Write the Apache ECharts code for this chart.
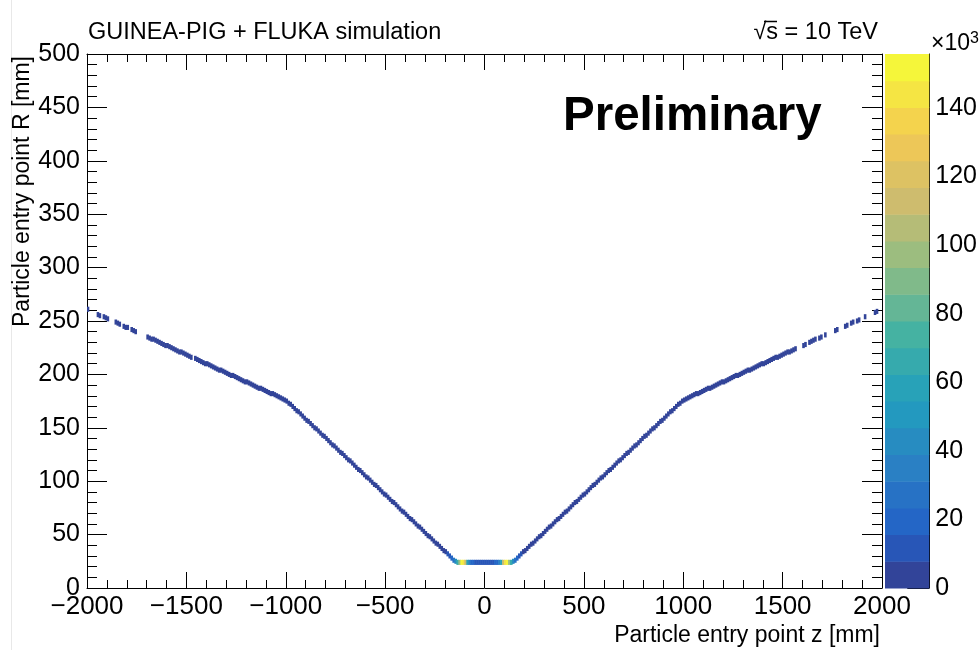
<!DOCTYPE html>
<html><head><meta charset="utf-8">
<script src="https://cdn.jsdelivr.net/npm/echarts@6/dist/echarts.min.js"></script>
<style>html,body{margin:0;padding:0;background:#fff}#c{width:980px;height:650px}</style>
</head><body><div id="c"></div>
<script>
// ---- binning of the 2D histogram: z bins of 10 mm, centres from -1995 to 1995
const zBinWidth = 10;
const zFirstCenter = -1995;
const rBinHeight = 4.8;

// R (mm) of the filled cell in each z bin (z ascending)
const rValues = [
  // z = -1995 ... -1005
  261,260,259,258,257,256,255,255,254,253,
  252,251,250,250,249,248,247,246,245,244,
  244,243,242,241,240,239,238,238,237,236,
  235,234,233,233,232,231,230,229,228,227,
  227,226,225,224,223,222,221,221,220,219,
  218,217,216,216,215,214,213,212,211,210,
  210,209,208,207,206,205,204,204,203,202,
  201,200,199,199,198,197,196,195,194,193,
  193,192,191,190,189,188,187,187,186,185,
  184,183,182,182,181,180,179,178,177,176,
  // z = -995 ... -145
  175,173,172,170,168,166,
  165,163,161,159,157,156,154,152,150,149,
  147,145,143,142,140,138,136,134,133,131,
  129,127,126,124,122,120,119,117,115,113,
  111,110,108,106,104,103,101,99,97,96,
  94,92,90,88,87,85,83,81,80,78,
  76,74,72,71,69,67,65,64,62,60,
  58,57,55,53,51,49,48,46,44,42,
  41,39,37,35,34,32,30,28,26,25,
  // z = -135 ... -5
  24,24,24,24,24,24,24,24,24,24,24,24,24,24,
  // z = 5 ... 135
  24,24,24,24,24,24,24,24,24,24,24,24,24,24,
  // z = 145 ... 995
  25,26,28,30,32,34,35,37,39,41,
  42,44,46,48,49,51,53,55,57,58,
  60,62,64,65,67,69,71,72,74,76,
  78,80,81,83,85,87,88,90,92,94,
  96,97,99,101,103,104,106,108,110,111,
  113,115,117,119,120,122,124,126,127,129,
  131,133,134,136,138,140,142,143,145,147,
  149,150,152,154,156,157,159,161,163,165,
  166,168,170,172,173,175,
  // z = 1005 ... 1995
  176,177,178,179,180,181,182,182,183,184,
  185,186,187,187,188,189,190,191,192,193,
  193,194,195,196,197,198,199,199,200,201,
  202,203,204,204,205,206,207,208,209,210,
  210,211,212,213,214,215,216,216,217,218,
  219,220,221,221,222,223,224,225,226,227,
  227,228,229,230,231,232,233,233,234,235,
  236,237,238,238,239,240,241,242,243,244,
  244,245,246,247,248,249,250,250,251,252,
  253,254,255,255,256,257,258,259,260,261
];

// entries per bin (x10^3), 0 = empty bin, same order as rValues
const counts = [
  // z = -1995 ... -1005
  5,0,0,0,0,5,5,0,5,5,
  5,0,0,0,5,5,5,0,5,5,
  5,0,5,5,5,0,0,0,0,0,
  5,5,5,5,5,5,5,5,5,5,
  5,5,5,5,5,5,5,5,5,5,
  5,5,5,0,5,5,5,5,5,5,
  5,5,5,5,5,5,5,5,5,5,
  5,5,5,5,5,5,5,5,5,5,
  5,5,5,5,5,5,5,5,5,5,
  5,5,5,5,5,5,5,5,5,5,
  // z = -995 ... -145
  5,5,5,5,5,5,
  5,5,5,5,5,5,5,5,5,5,
  5,5,5,5,5,5,5,5,5,5,
  5,5,5,5,5,5,5,5,5,5,
  5,5,5,5,5,5,5,5,5,5,
  5,5,5,5,5,5,5,5,5,5,
  5,5,5,5,5,5,5,5,5,5,
  5,5,5,5,5,5,5,5,5,5,
  5,5,5,5,5,10,12,18,30,45,
  // z = -135 ... -5
  70,100,150,145,110,60,35,22,16,12,12,12,12,12,
  // z = 5 ... 135
  12,12,12,12,12,16,22,35,60,110,145,150,100,70,
  // z = 145 ... 995
  45,30,18,12,10,5,5,5,5,5,
  5,5,5,5,5,5,5,5,5,5,
  5,5,5,5,5,5,5,5,5,5,
  5,5,5,5,5,5,5,5,5,5,
  5,5,5,5,5,5,5,5,5,5,
  5,5,5,5,5,5,5,5,5,5,
  5,5,5,5,5,5,5,5,5,5,
  5,5,5,5,5,5,5,5,5,5,
  5,5,5,5,5,5,
  // z = 1005 ... 1995
  5,5,5,5,5,5,5,5,5,5,
  5,5,5,5,5,5,5,5,5,5,
  5,5,5,5,5,5,5,5,5,5,
  5,5,5,5,5,5,5,5,5,5,
  5,5,5,5,5,5,5,5,5,5,
  5,5,5,5,5,5,5,0,0,0,
  5,5,0,5,5,5,5,0,5,5,
  0,5,0,0,0,0,5,5,0,0,
  0,5,5,0,5,5,0,5,5,0,
  0,5,0,0,0,0,5,5,0,0
];

const xTicks = [-2000,-1500,-1000,-500,0,500,1000,1500,2000];
const colorTicks = [0,20,40,60,80,100,120,140];
const colorMax = 155.7;
const nContours = 20;

// ---- ROOT kBird palette (style), slightly faded like the reference
const birdStops = [[0.2082,0.1664,0.5293],[0.0592,0.3599,0.8684],[0.0780,0.5041,0.8385],[0.0232,0.6419,0.7914],[0.1802,0.7178,0.6425],[0.5301,0.7492,0.4662],[0.8186,0.7328,0.3499],[0.9956,0.7862,0.1968],[0.9764,0.9832,0.0539]];
function bird(t){
  const s = Math.max(0, Math.min(1, t)) * 8;
  const k = Math.min(7, Math.floor(s));
  const f = s - k;
  const a = birdStops[k], b = birdStops[k+1];
  let c = a.map((v,j)=> v + (b[j]-v)*f);
  const L = 0.299*c[0]+0.587*c[1]+0.114*c[2];
  c = c.map(v => (v*0.82 + L*0.18) * 0.97 + 0.03);
  return 'rgb(' + c.map(v=>Math.round(Math.min(1, v)*255)).join(',') + ')';
}
const step = colorMax / nContours;
const pieces = [];
const bands = [];
for (let i = 0; i < nContours; i++) {
  const idx = Math.floor((i + 0.99) * 255 / nContours);
  const col = bird(idx / 254);
  pieces.push({gte: i*step, lt: (i+1)*step + (i === nContours-1 ? 1e6 : 0), color: col});
  bands.push([i*step, (i+1)*step, (i+0.5)*step]);
}

const cells = [];
for (let i = 0; i < rValues.length; i++) {
  if (counts[i] > 0) cells.push([zFirstCenter + i*zBinWidth, rValues[i], counts[i]]);
}

const FONT = '"Liberation Sans", Arial, Helvetica, sans-serif';
const black = '#000';
const labelStyle = {fontSize: 25, color: black, fontFamily: FONT};
const fmtMinus = v => v < 0 ? '\u2212' + Math.abs(v) : String(v);

const chart = echarts.init(document.getElementById('c'), null, {renderer: 'canvas'});
chart.setOption({
  animation: false,
  backgroundColor: '#fff',
  grid: [
    {left: 87, top: 54, width: 795, height: 534},
    {left: 885, top: 54, width: 45, height: 534}
  ],
  xAxis: [
    {gridIndex: 0, type: 'value', min: -2000, max: 2000, interval: 500, position: 'bottom',
     axisLine: {show: true, onZero: false, lineStyle: {color: black, width: 1}},
     axisTick: {show: true, inside: true, length: 16, lineStyle: {color: black}},
     minorTick: {show: true, splitNumber: 5, length: 8, lineStyle: {color: black}},
     splitLine: {show: false}, minorSplitLine: {show: false},
     axisLabel: Object.assign({margin: 6, formatter: fmtMinus, customValues: xTicks}, labelStyle, {fontSize: 26})},
    {gridIndex: 0, type: 'value', min: -2000, max: 2000, interval: 500, position: 'top',
     axisLine: {show: true, onZero: false, lineStyle: {color: black, width: 1}},
     axisTick: {show: true, inside: true, length: 16, lineStyle: {color: black}},
     minorTick: {show: true, splitNumber: 5, length: 8, lineStyle: {color: black}},
     splitLine: {show: false}, axisLabel: {show: false}},
    {gridIndex: 1, type: 'value', min: 0, max: 1, show: false}
  ],
  yAxis: [
    {gridIndex: 0, type: 'value', min: 0, max: 500, interval: 50, position: 'left',
     axisLine: {show: true, onZero: false, lineStyle: {color: black, width: 1}},
     axisTick: {show: true, inside: true, length: 20, lineStyle: {color: black}},
     minorTick: {show: true, splitNumber: 5, length: 10, lineStyle: {color: black}},
     splitLine: {show: false},
     axisLabel: Object.assign({margin: 7}, labelStyle)},
    {gridIndex: 0, type: 'value', min: 0, max: 500, interval: 50, position: 'right',
     axisLine: {show: true, onZero: false, lineStyle: {color: black, width: 1}},
     axisTick: {show: true, inside: true, length: 20, lineStyle: {color: black}},
     minorTick: {show: true, splitNumber: 5, length: 10, lineStyle: {color: black}},
     splitLine: {show: false}, axisLabel: {show: false}},
    {gridIndex: 1, type: 'value', min: 0, max: colorMax, position: 'right',
     axisLine: {show: true, onZero: false, lineStyle: {color: black, width: 1}},
     axisTick: {show: true, inside: true, length: 22, customValues: colorTicks, lineStyle: {color: black}},
     splitLine: {show: false},
     axisLabel: Object.assign({margin: 6, customValues: colorTicks}, labelStyle)}
  ],
  visualMap: {
    type: 'piecewise', show: false, dimension: 2, seriesIndex: [0, 1], pieces: pieces
  },
  series: [
    {type: 'custom', xAxisIndex: 0, yAxisIndex: 0, clip: true, data: cells,
     renderItem: function(params, api){
       const z = api.value(0), r = api.value(1);
       const p0 = api.coord([z - zBinWidth/2, r + rBinHeight/2]);
       const p1 = api.coord([z + zBinWidth/2, r - rBinHeight/2]);
       return {type: 'rect', shape: {x: p0[0] - 0.3, y: p0[1], width: p1[0]-p0[0] + 0.6, height: p1[1]-p0[1]},
               style: {fill: api.visual('color')}};
     }},
    {type: 'custom', xAxisIndex: 2, yAxisIndex: 2, data: bands,
     renderItem: function(params, api){
       const p0 = api.coord([0, api.value(1)]);
       const p1 = api.coord([1, api.value(0)]);
       return {type: 'rect', shape: {x: p0[0], y: p0[1], width: p1[0]-p0[0], height: p1[1]-p0[1] + 0.5},
               style: {fill: api.visual('color')}};
     }}
  ],
  graphic: [
    {type: 'line', shape: {x1: 11.5, y1: 0, x2: 11.5, y2: 650}, style: {stroke: '#e8e8e8', lineWidth: 1}, silent: true},
    {type: 'text', x: 88, y: 33, style: {text: 'GUINEA-PIG + FLUKA simulation', font: '23.5px ' + FONT, fill: black, textAlign: 'left', textVerticalAlign: 'middle'}},
    {type: 'text', x: 878, y: 33, style: {text: '\u221As = 10 TeV', font: '23.5px ' + FONT, fill: black, textAlign: 'right', textVerticalAlign: 'middle'}},
    {type: 'line', shape: {x1: 764, y1: 21.5, x2: 777, y2: 21.5}, style: {stroke: black, lineWidth: 1.5}},
    {type: 'text', x: 563, y: 117, style: {text: 'Preliminary', font: 'bold 47.5px ' + FONT, fill: black, textAlign: 'left', textVerticalAlign: 'middle'}},
    {type: 'text', x: 880, y: 636, style: {text: 'Particle entry point z [mm]', font: '23px ' + FONT, fill: black, textAlign: 'right', textVerticalAlign: 'middle'}},
    {type: 'text', x: 23, y: 56, rotation: Math.PI/2, style: {text: 'Particle entry point R [mm]', font: '23px ' + FONT, fill: black, textAlign: 'right', textVerticalAlign: 'middle'}},
    {type: 'text', x: 931, y: 44, style: {text: '{a|\u00d710}{b|3}', fill: black, textAlign: 'left', textVerticalAlign: 'middle',
       rich: {a: {font: '23px ' + FONT, fill: black}, b: {font: '16px ' + FONT, fill: black, verticalAlign: 'top', padding: [0,0,10,0]}}}}
  ]
});
</script></body></html>
